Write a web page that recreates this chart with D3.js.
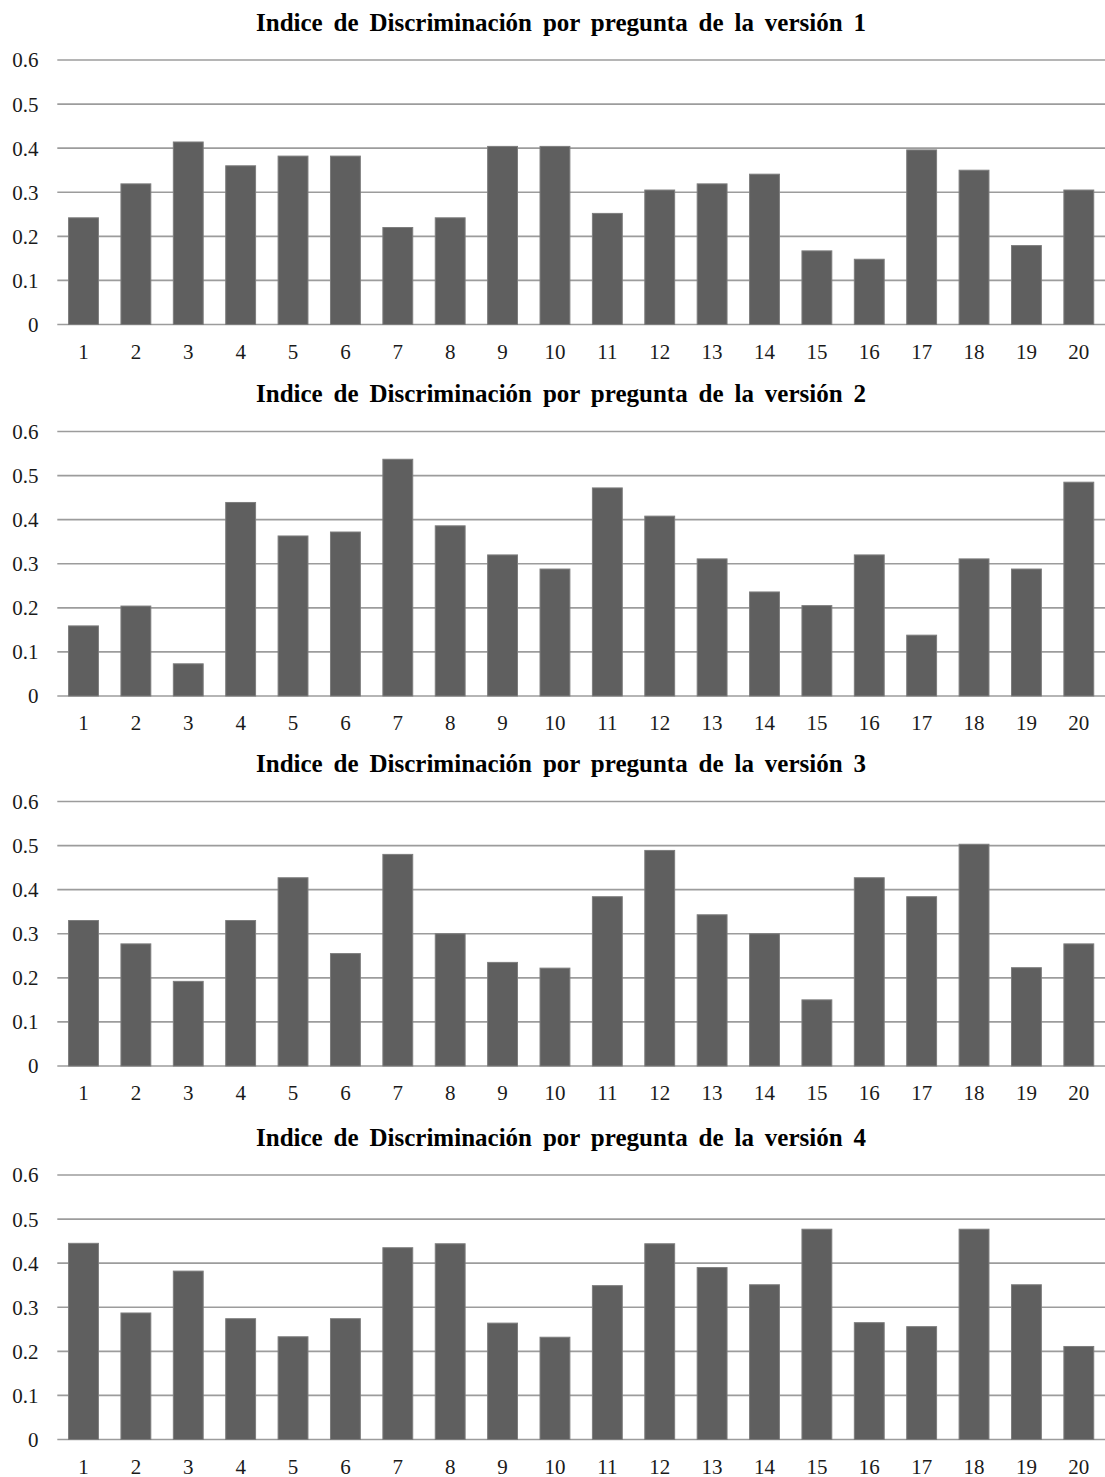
<!DOCTYPE html>
<html>
<head>
<meta charset="utf-8">
<script src="https://cdn.jsdelivr.net/npm/d3@7"></script>
<style>
  html, body { margin: 0; padding: 0; background: #fff; }
  svg { display: block; }
</style>
</head>
<body>
<svg id="chart" width="1105" height="1477"></svg>
<script>
// Discrimination index per question, one array per exam version
const preguntas = d3.range(1, 21).map(String);
const version1 = [0.242, 0.319, 0.414, 0.360, 0.382, 0.382, 0.220, 0.242, 0.404, 0.404,
                  0.252, 0.305, 0.319, 0.341, 0.167, 0.148, 0.396, 0.350, 0.179, 0.305];
const version2 = [0.159, 0.204, 0.073, 0.439, 0.363, 0.372, 0.537, 0.386, 0.320, 0.288,
                  0.472, 0.408, 0.311, 0.236, 0.205, 0.320, 0.138, 0.311, 0.288, 0.485];
const version3 = [0.330, 0.277, 0.192, 0.330, 0.427, 0.255, 0.480, 0.300, 0.235, 0.222,
                  0.384, 0.489, 0.343, 0.300, 0.150, 0.427, 0.384, 0.503, 0.223, 0.277];
const version4 = [0.445, 0.287, 0.382, 0.274, 0.233, 0.274, 0.435, 0.444, 0.264, 0.232,
                  0.349, 0.444, 0.390, 0.351, 0.477, 0.265, 0.256, 0.477, 0.351, 0.211];
const yTicks = [0, 0.1, 0.2, 0.3, 0.4, 0.5, 0.6];
const yTickLabels = ["0", "0.1", "0.2", "0.3", "0.4", "0.5", "0.6"];
const versiones = [version1, version2, version3, version4];
const titulos = [1, 2, 3, 4].map(v => "Indice de Discriminación por pregunta de la versión " + v);

const svg = d3.select("#chart");
const panelTops = [60, 431.5, 801.5, 1175];
const plotH = 264.5;
const plotLeft = 57.3, plotRight = 1105;
const serif = "'Liberation Serif', 'Times New Roman', serif";

const x = d3.scaleBand().domain(preguntas).range([plotLeft, plotRight])
  .paddingInner(0.43).paddingOuter(0.215);

versiones.forEach((valores, i) => {
  const top = panelTops[i];
  const y = d3.scaleLinear().domain([0, 0.6]).range([top + plotH, top]);
  const g = svg.append("g");

  // horizontal gridlines
  g.append("g").selectAll("line").data(yTicks).join("line")
    .attr("x1", plotLeft).attr("x2", plotRight)
    .attr("y1", d => y(d)).attr("y2", d => y(d))
    .attr("stroke", "#9c9c9c").attr("stroke-width", 1.6);

  // y axis labels
  const yAxis = d3.axisLeft(y).tickValues(yTicks)
    .tickFormat((d, k) => yTickLabels[k]).tickSize(0).tickPadding(0);
  g.append("g").attr("transform", "translate(38.5,0)").call(yAxis)
    .call(a => a.select(".domain").remove())
    .call(a => a.selectAll("text")
      .attr("font-family", serif).attr("font-size", 21).attr("fill", "#1a1a1a")
      .attr("dy", "0.33em"));

  // bars
  g.append("g").selectAll("rect").data(valores).join("rect")
    .attr("x", (d, k) => x(preguntas[k]))
    .attr("width", x.bandwidth())
    .attr("y", d => y(d))
    .attr("height", d => y(0) - y(d))
    .attr("fill", "#5f5f5f")
    .attr("stroke", "#7d7d7d").attr("stroke-width", 1);

  // x axis labels
  const xAxis = d3.axisBottom(x).tickSize(0).tickPadding(0);
  g.append("g").attr("transform", `translate(0,${top + plotH})`).call(xAxis)
    .call(a => a.select(".domain").remove())
    .call(a => a.selectAll("text")
      .attr("font-family", serif).attr("font-size", 21).attr("fill", "#1a1a1a")
      .attr("dy", null).attr("y", 34));

  // title, spread across its justified width
  const t = g.append("text")
    .attr("x", 561).attr("y", top - 29.5)
    .attr("text-anchor", "middle")
    .attr("font-family", serif).attr("font-weight", "bold").attr("font-size", 25)
    .attr("fill", "#000")
    .text(titulos[i]);
  const targetW = 610;
  const w = t.node().getComputedTextLength();
  const gaps = titulos[i].split(" ").length - 1;
  t.attr("word-spacing", Math.max(0, (targetW - w) / gaps).toFixed(2));
});
</script>
</body>
</html>
